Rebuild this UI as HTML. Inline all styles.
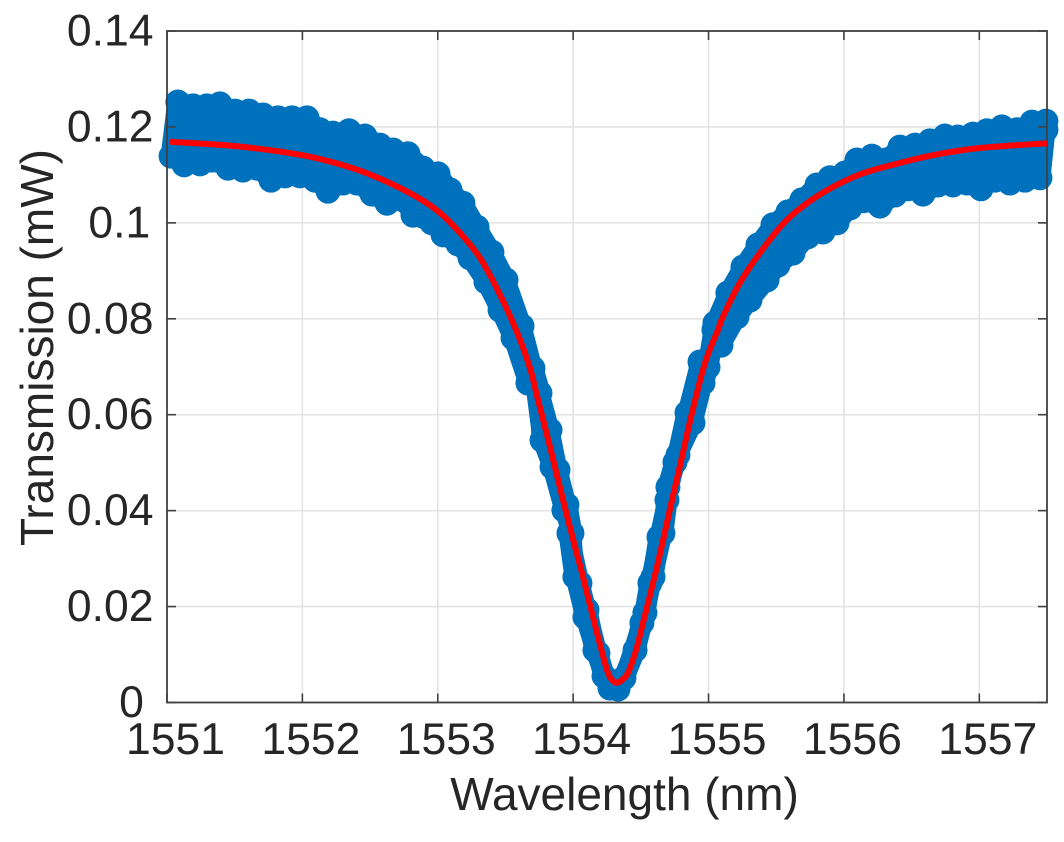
<!DOCTYPE html>
<html>
<head>
<meta charset="utf-8">
<title>Transmission vs Wavelength</title>
<style>
html,body{margin:0;padding:0;background:#fff;}
svg{display:block;}
text{font-family:"Liberation Sans",Arial,sans-serif;fill:#262626;}
</style>
</head>
<body>
<svg id="chart" width="1064" height="842" viewBox="0 0 1064 842" xmlns="http://www.w3.org/2000/svg">
<rect x="167" y="31" width="880" height="671.5" fill="#fff"/>
<g id="grid"></g>
<g id="measured"></g>
<g id="frame"></g>
<path id="fit" fill="none" stroke="#ff0000" stroke-width="6" stroke-linejoin="round"/>
<g id="labels"></g>
<text x="624.5" y="810" font-size="46" text-anchor="middle">Wavelength (nm)</text>
<text transform="translate(53,347.5) rotate(-90)" font-size="46" text-anchor="middle">Transmission (mW)</text>
</svg>
<script>
const xTicks = [1551, 1552, 1553, 1554, 1555, 1556, 1557];
const yTicks = [0, 0.02, 0.04, 0.06, 0.08, 0.1, 0.12, 0.14];
const yTickLabels = ['0', '0.02', '0.04', '0.06', '0.08', '0.1', '0.12', '0.14'];
const xDomain = [1551, 1557.5];
const yDomain = [0, 0.14];

const measuredWavelength = [
1551.03,1551.08,1551.126,1551.192,1551.244,1551.295,1551.332,1551.391,1551.451,1551.502,
1551.561,1551.606,1551.665,1551.709,1551.768,1551.82,1551.872,1551.923,1551.982,1552.034,
1552.093,1552.13,1552.189,1552.226,1552.3,1552.344,1552.403,1552.462,1552.514,1552.573,
1552.625,1552.669,1552.743,1552.78,1552.817,1552.891,1552.957,1553.002,1553.039,1553.09,
1553.149,1553.186,1553.238,1553.29,1553.356,1553.4,1553.46,1553.504,1553.556,1553.622,
1553.666,1553.703,1553.755,1553.77,1553.829,1553.844,1553.888,1553.932,1553.954,1553.991,
1553.969,1554.013,1554.05,1554.087,1554.102,1554.161,1554.183,1554.228,1554.272,1554.331,
1554.375,1554.457,1554.508,1554.53,1554.567,1554.59,1554.634,1554.663,1554.693,1554.7,
1554.752,1554.774,1554.841,1554.885,1554.937,1554.959,1554.996,1555.04,1555.047,1555.092,
1555.143,1555.21,1555.254,1555.306,1555.365,1555.432,1555.476,1555.513,1555.587,1555.624,
1555.69,1555.734,1555.801,1555.845,1555.897,1555.949,1556.008,1556.045,1556.096,1556.14,
1556.207,1556.266,1556.31,1556.377,1556.414,1556.473,1556.525,1556.584,1556.635,1556.695,
1556.746,1556.805,1556.842,1556.909,1556.953,1557.012,1557.056,1557.116,1557.167,1557.226,
1557.278,1557.337,1557.389,1557.448,1557.492,1557.492
];
const measuredTransmission = [
.1139,.1252,.1121,.1244,.1123,.1244,.1131,.1248,.1114,.1233,
.1110,.1233,.1114,.1225,.1089,.1219,.1098,.1219,.1098,.1219,
.1089,.1194,.1066,.1187,.1083,.1192,.1083,.1181,.1060,.1162,
.1041,.1152,.1048,.1144,.1016,.1114,.1000,.1102,.0975,.1069,
.0956,.1041,.0927,.0991,.0877,.0939,.0818,.0881,.0760,.0785,
.0666,.0697,.0645,.0547,.0568,.0491,.0485,.0401,.0412,.0353,
.0353,.0262,.0249,.0178,.0193,.0109,.0103,.0055,.0030,.0028,
.0051,.0109,.0166,.0187,.0249,.0262,.0345,.0353,.0422,.0449,
.0501,.0516,.0604,.0583,.0710,.0666,.0699,.0777,.0791,.0745,
.0854,.0804,.0908,.0839,.0954,.0881,.0996,.0912,.1023,.0937,
.1048,.0971,.1079,.0981,.1094,.1000,.1104,.1031,.1131,.1046,
.1139,.1035,.1131,.1058,.1158,.1071,.1162,.1060,.1171,.1079,
.1181,.1079,.1179,.1083,.1185,.1071,.1192,.1089,.1200,.1083,
.1194,.1089,.1210,.1094,.1212,.1194
];

const fitWavelength = [
1551.022,1551.51,1552.0,1552.35,1552.6,1552.846,1553.016,1553.164,1553.312,1553.46,
1553.585,1553.681,1553.74,1553.829,1553.925,1554.0,1554.065,1554.176,1554.25,1554.287,
1554.324,1554.361,1554.405,1554.464,1554.516,1554.619,1554.73,1554.804,1554.878,1554.974,
1555.07,1555.106,1555.232,1555.394,1555.564,1555.727,1555.919,1556.118,1556.318,1556.657,
1557.004,1557.5
];
const fitTransmission = [
.1169,.1160,.1141,.1116,.1089,.1054,.1021,.0979,.0927,.0850,
.0772,.0697,.0631,.0533,.0422,.0339,.0270,.0145,.0068,.0047,
.0041,.0047,.0062,.0109,.0166,.0283,.0422,.0512,.0604,.0708,
.0777,.0804,.0875,.0943,.1002,.1041,.1075,.1101,.1118,.1141,
.1156,.1166
];

const NS = 'http://www.w3.org/2000/svg';
const plot = {left: 167, right: 1047, top: 31, bottom: 702.5};
function xScale(v){ return plot.left + (v - xDomain[0]) / (xDomain[1] - xDomain[0]) * (plot.right - plot.left); }
function yScale(v){ return plot.bottom - (v - yDomain[0]) / (yDomain[1] - yDomain[0]) * (plot.bottom - plot.top); }
function make(tag, attrs, parent){
  const el = document.createElementNS(NS, tag);
  for (const k in attrs) el.setAttribute(k, attrs[k]);
  parent.appendChild(el);
  return el;
}
const grid = document.getElementById('grid');
const frame = document.getElementById('frame');
const labels = document.getElementById('labels');
const measured = document.getElementById('measured');
const GRID = '#e3e3e3', AXIS = '#404040';

xTicks.forEach(function(t){
  const x = xScale(t);
  if (t !== xDomain[0]) {
    const g = make('line', {x1:x, x2:x, y1:plot.top, y2:plot.bottom, stroke:GRID, 'stroke-width':1.6}, grid);
    
    
  }
  const a = make('line', {x1:x, x2:x, y1:plot.bottom, y2:plot.bottom-9, stroke:AXIS, 'stroke-width':1.6}, frame);
  
  
  const b = make('line', {x1:x, x2:x, y1:plot.top, y2:plot.top+9, stroke:AXIS, 'stroke-width':1.6}, frame);
  
  
  const l = make('text', {x:x+8.5, y:754, 'font-size':44.5, 'text-anchor':'middle'}, labels);
  l.textContent = String(t);
  
  
});
yTicks.forEach(function(t, i){
  const y = yScale(t);
  if (t !== yDomain[0] && t !== yDomain[1]) {
    const g = make('line', {x1:plot.left, x2:plot.right, y1:y, y2:y, stroke:GRID, 'stroke-width':1.6}, grid);
    
    
  }
  const a = make('line', {x1:plot.left, x2:plot.left+9, y1:y, y2:y, stroke:AXIS, 'stroke-width':1.6}, frame);
  
  
  const b = make('line', {x1:plot.right, x2:plot.right-9, y1:y, y2:y, stroke:AXIS, 'stroke-width':1.6}, frame);
  
  
  const lab = yTickLabels[i];
  const l = make('text', {x:153.5 - (4 - lab.length) * 3.2, y:y+14.5, 'font-size':44.5, 'text-anchor':'end'}, labels);
  l.textContent = lab;
  
  
});
const border = make('rect', {x:plot.left, y:plot.top, width:plot.right-plot.left, height:plot.bottom-plot.top, fill:'none', stroke:AXIS, 'stroke-width':1.8}, frame);



function ptStr(w, v){ return xScale(w).toFixed(1) + ',' + yScale(v).toFixed(1); }
const measuredPts = measuredWavelength.map(function(w, i){ return ptStr(w, measuredTransmission[i]); });
const band = make('polyline', {points:measuredPts.join(' '), fill:'none', stroke:'#0072BD', 'stroke-width':21, 'stroke-linejoin':'round', 'stroke-linecap':'round'}, measured);


const upperEdge = make('polyline', {points:measuredPts.filter(function(p, i){ return i % 2 === 1; }).join(' '), fill:'none', stroke:'#0072BD', 'stroke-width':19, 'stroke-linejoin':'round', 'stroke-linecap':'round'}, measured);


const lowerEdge = make('polyline', {points:measuredPts.filter(function(p, i){ return i % 2 === 0; }).join(' '), fill:'none', stroke:'#0072BD', 'stroke-width':19, 'stroke-linejoin':'round', 'stroke-linecap':'round'}, measured);


measuredWavelength.forEach(function(w, i){
  const c = make('circle', {cx:xScale(w), cy:yScale(measuredTransmission[i]), r:12.5, fill:'#0072BD'}, measured);
  
  
});

const fitX = fitWavelength.map(xScale);
const fitY = fitTransmission.map(yScale);
let fitPath = 'M' + fitX[0].toFixed(1) + ' ' + fitY[0].toFixed(1);
for (let i = 0; i < fitX.length - 1; i++) {
  const p0 = Math.max(i - 1, 0), p3 = Math.min(i + 2, fitX.length - 1);
  const c1x = fitX[i] + (fitX[i+1] - fitX[p0]) / 6, c1y = fitY[i] + (fitY[i+1] - fitY[p0]) / 6;
  const c2x = fitX[i+1] - (fitX[p3] - fitX[i]) / 6, c2y = fitY[i+1] - (fitY[p3] - fitY[i]) / 6;
  fitPath += 'C' + c1x.toFixed(1) + ' ' + c1y.toFixed(1) + ' ' + c2x.toFixed(1) + ' ' + c2y.toFixed(1) + ' ' + fitX[i+1].toFixed(1) + ' ' + fitY[i+1].toFixed(1);
}
document.getElementById('fit').setAttribute('d', fitPath);
</script>
</body>
</html>
